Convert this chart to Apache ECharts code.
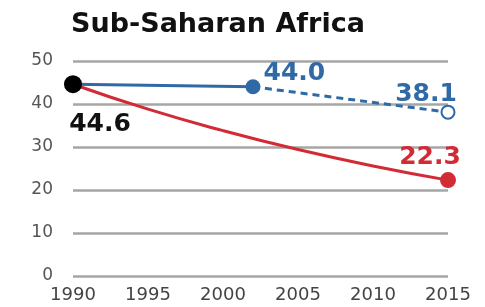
<!DOCTYPE html>
<html>
<head>
<meta charset="utf-8">
<script src="https://cdn.jsdelivr.net/npm/echarts@6/dist/echarts.min.js"></script>
<style>
  html, body { margin: 0; padding: 0; background: #fff; }
  #chart { width: 485px; height: 307px; }
</style>
</head>
<body>
<div id="chart"></div>
<script>
// values
let years = [1990, 1995, 2000, 2005, 2010, 2015];
let targetPath = [44.6, 38.8, 33.8, 29.4, 25.6, 22.3];
let actual = [[1990, 44.6], [2002, 44.0]];
let projected = [[2002, 44.0], [2015, 38.1]];
let start = [[1990, 44.6]];
let yTicks = [0, 10, 20, 30, 40, 50];

let blue = '#2f6aa6';
let red = '#d22b36';
let font = 'DejaVu Sans';

let chart = echarts.init(document.getElementById('chart'));
chart.setOption({
  animation: false,
  textStyle: { fontFamily: font },
  title: {
    text: 'Sub-Saharan Africa',
    left: 66,
    top: 6,
    textStyle: { fontSize: 27, fontWeight: 'bold', color: '#111', fontFamily: font }
  },
  grid: { left: 73, right: 37, top: 61, bottom: 31 },
  xAxis: {
    type: 'value',
    min: years[0],
    max: years[years.length - 1],
    interval: 5,
    axisLine: { show: false },
    axisTick: { show: false },
    splitLine: { show: false },
    axisLabel: { color: '#444', fontSize: 18, margin: 10, fontFamily: font, formatter: v => String(v) }
  },
  yAxis: {
    type: 'value',
    min: yTicks[0],
    max: yTicks[yTicks.length - 1],
    interval: 10,
    axisLine: { show: false },
    axisTick: { show: false },
    splitLine: { lineStyle: { color: '#a6a6a6', width: 2.5 } },
    axisLabel: { color: '#555', fontSize: 17, margin: 20, fontFamily: font }
  },
  series: [
    {
      type: 'line',
      data: years.map((y, i) => [y, targetPath[i]]),
      smooth: true,
      lineStyle: { color: red, width: 3 },
      itemStyle: { color: red },
      symbol: 'circle',
      symbolSize: (v, p) => p.dataIndex === years.length - 1 ? 16 : 0,
      label: {
        show: true,
        formatter: p => p.dataIndex === years.length - 1 ? p.value[1].toFixed(1) : '',
        position: 'top',
        offset: [-18, 3],
        color: red,
        fontSize: 25,
        fontWeight: 'bold',
        fontFamily: font
      },
      z: 2
    },
    {
      type: 'line',
      data: projected,
      lineStyle: { color: blue, width: 3, type: [7, 5] },
      itemStyle: { color: blue, borderColor: blue, borderWidth: 2.5 },
      symbol: 'emptyCircle',
      symbolSize: (v, p) => p.dataIndex === 1 ? 13 : 0,
      label: {
        show: true,
        formatter: p => p.dataIndex === 1 ? p.value[1].toFixed(1) : '',
        position: 'top',
        offset: [-22, 7],
        color: blue,
        fontSize: 25,
        fontWeight: 'bold',
        fontFamily: font
      },
      z: 3
    },
    {
      type: 'line',
      data: actual,
      lineStyle: { color: blue, width: 3 },
      itemStyle: { color: blue },
      symbol: 'circle',
      symbolSize: (v, p) => p.dataIndex === 1 ? 15 : 0,
      label: {
        show: true,
        formatter: p => p.dataIndex === 1 ? p.value[1].toFixed(1) : '',
        position: 'right',
        offset: [-2, -13],
        color: blue,
        fontSize: 25,
        fontWeight: 'bold',
        fontFamily: font
      },
      z: 4
    },
    {
      type: 'scatter',
      data: start,
      symbol: 'circle',
      symbolSize: 18,
      itemStyle: { color: '#000', opacity: 1 },
      label: {
        show: true,
        formatter: p => p.value[1].toFixed(1),
        position: 'bottom',
        offset: [27, 14],
        color: '#111',
        fontSize: 25,
        fontWeight: 'bold',
        fontFamily: font
      },
      z: 5
    }
  ]
});
</script>
</body>
</html>
